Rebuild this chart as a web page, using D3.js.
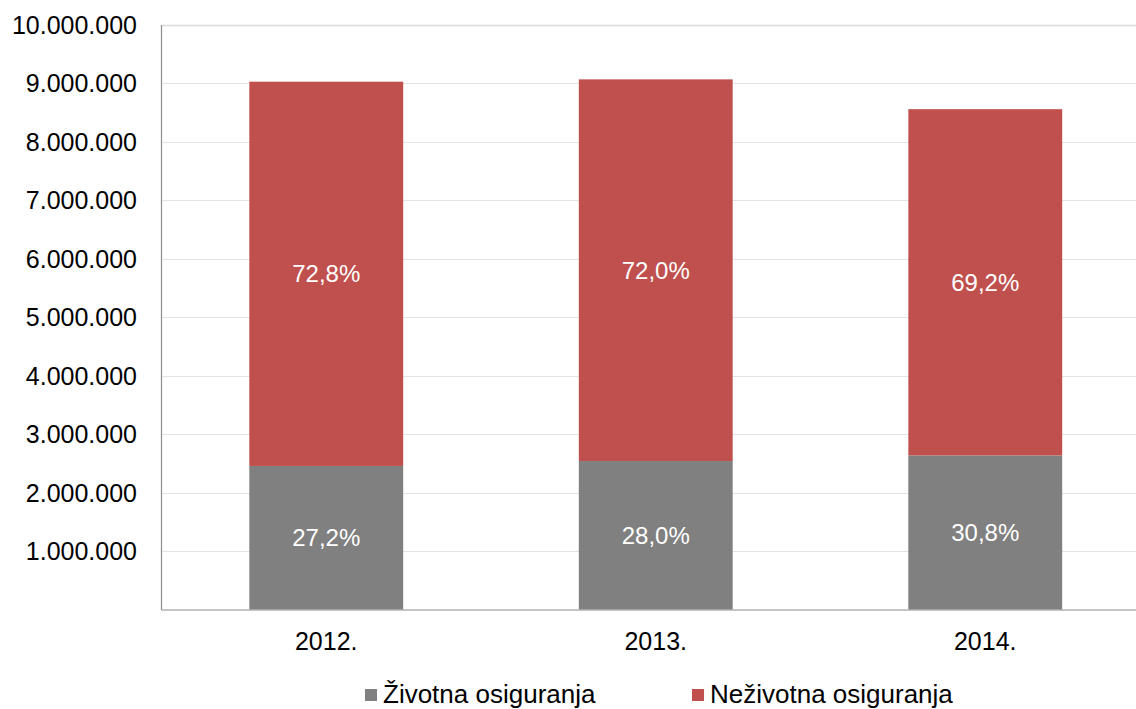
<!DOCTYPE html>
<html>
<head>
<meta charset="utf-8">
<script src="https://cdn.jsdelivr.net/npm/d3@7"></script>
<style>
  html, body { margin: 0; padding: 0; background: #fff; }
  svg { display: block; font-family: "Liberation Sans", Arial, sans-serif; }
</style>
</head>
<body>
<svg id="chart" width="1136" height="709"></svg>
<script>
const categories = ["2012.", "2013.", "2014."];
const seriesNames = ["Životna osiguranja", "Neživotna osiguranja"];
const lifeValues = [2456000, 2540000, 2636000];
const nonLifeValues = [6574000, 6530000, 5924000];
const yTicks = [1000000, 2000000, 3000000, 4000000, 5000000, 6000000, 7000000, 8000000, 9000000, 10000000];
const colors = ["#808080", "#C0504D"];

const svg = d3.select("#chart");
const mLeft = 161.5, mRight = 1150, mTop = 25, mBottom = 609.5;

const x = d3.scaleBand().domain(categories).range([mLeft, mRight])
  .paddingInner(0.533).paddingOuter(0.2665);
const y = d3.scaleLinear().domain([0, 10000000]).range([mBottom, mTop]);

const fmt = v => d3.format(",")(v).replace(/,/g, ".");
const pct = v => d3.format(".1f")(v * 100).replace(".", ",") + "%";

// gridlines
svg.append("g").selectAll("line").data(yTicks).join("line")
  .attr("x1", mLeft).attr("x2", 1136)
  .attr("y1", d => Math.round(y(d)) + 0.5).attr("y2", d => Math.round(y(d)) + 0.5)
  .attr("stroke", d => d === 10000000 ? "#dcdcdc" : "#e3e3e3")
  .attr("stroke-width", d => d === 10000000 ? 1.5 : 1);

// y tick labels
svg.append("g").selectAll("text").data(yTicks).join("text")
  .attr("x", 137).attr("y", d => y(d)).attr("dy", "0.36em")
  .attr("text-anchor", "end").attr("font-size", 25).attr("fill", "#000")
  .text(fmt);

const stackData = categories.map((c, i) => ({cat: c, life: lifeValues[i], nonlife: nonLifeValues[i]}));
const stack = d3.stack().keys(["life", "nonlife"])(stackData);

const g = svg.append("g");
stack.forEach((layer, li) => {
  g.selectAll(null).data(layer).join("rect")
    .attr("x", d => x(d.data.cat)).attr("width", x.bandwidth())
    .attr("y", d => y(d[1])).attr("height", d => y(d[0]) - y(d[1]))
    .attr("fill", colors[li]);
  g.selectAll(null).data(layer).join("text")
    .attr("x", d => x(d.data.cat) + x.bandwidth() / 2)
    .attr("y", d => (y(d[0]) + y(d[1])) / 2).attr("dy", "0.36em")
    .attr("text-anchor", "middle").attr("font-size", 24).attr("fill", "#fff")
    .text(d => pct((d[1] - d[0]) / (d.data.life + d.data.nonlife)));
});

// axes lines
svg.append("line").attr("x1", mLeft).attr("x2", mLeft).attr("y1", mTop).attr("y2", mBottom + 0.5)
  .attr("stroke", "#8c8c8c").attr("stroke-width", 1.2);
svg.append("line").attr("x1", mLeft).attr("x2", 1136).attr("y1", mBottom + 0.5).attr("y2", mBottom + 0.5)
  .attr("stroke", "#8c8c8c").attr("stroke-width", 1.2);

// x labels
svg.append("g").selectAll("text").data(categories).join("text")
  .attr("x", d => x(d) + x.bandwidth() / 2).attr("y", 641).attr("dy", "0.36em")
  .attr("text-anchor", "middle").attr("font-size", 25).attr("fill", "#000")
  .text(d => d);

// legend
const legendX = [365, 692];
const lg = svg.append("g").selectAll("g").data(seriesNames).join("g")
  .attr("transform", (d, i) => `translate(${legendX[i]},0)`);
lg.append("rect").attr("x", 0).attr("y", 689).attr("width", 12).attr("height", 12)
  .attr("fill", (d, i) => colors[i]);
lg.append("text").attr("x", 18).attr("y", 702.5).attr("font-size", 26).attr("fill", "#000")
  .text(d => d);
</script>
</body>
</html>
